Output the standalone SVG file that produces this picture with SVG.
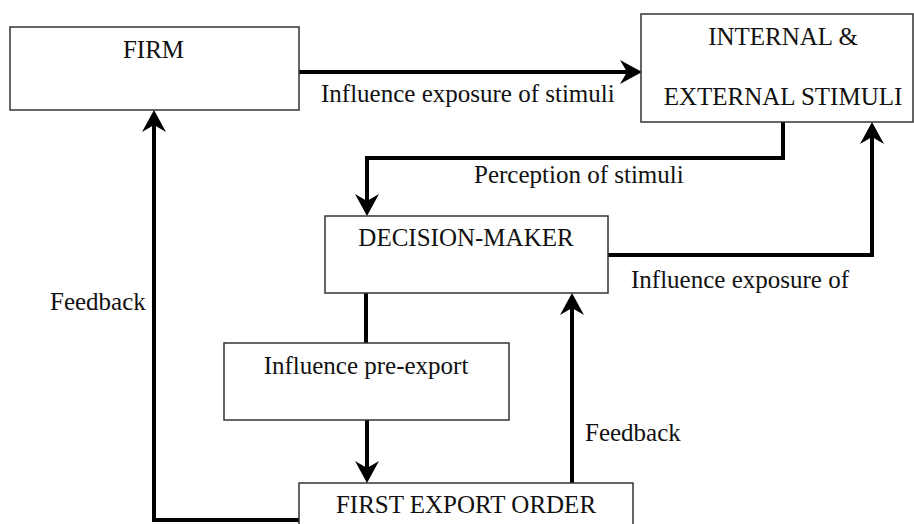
<svg xmlns="http://www.w3.org/2000/svg" width="914" height="524" viewBox="0 0 914 524">
  <defs>
    <marker id="arr" viewBox="0 0 22 24" refX="14" refY="12" markerWidth="22" markerHeight="24" markerUnits="userSpaceOnUse" orient="auto">
      <path d="M0,0 L22,12 L0,24 L7,12 Z" fill="#000"/>
    </marker>
  </defs>
  <style>
    .box { fill: #fff; stroke: #333; stroke-width: 1.5; }
    .t { font-family: "Liberation Serif", "Times New Roman", serif; font-size: 25px; fill: #111; }
    .c { text-anchor: middle; }
    .conn { fill: none; stroke: #000; stroke-width: 4; stroke-linejoin: miter; }
  </style>
  <rect width="914" height="524" fill="#fff"/>

  <g id="connectors">
    <path class="conn" d="M299,72 H634" marker-end="url(#arr)"/>
    <path class="conn" d="M783,122 V158 H367 V208" marker-end="url(#arr)"/>
    <path class="conn" d="M608,255 H872 V130" marker-end="url(#arr)"/>
    <path class="conn" d="M366,293 V343"/>
    <path class="conn" d="M367,420 V475" marker-end="url(#arr)"/>
    <path class="conn" d="M572,483 V301" marker-end="url(#arr)"/>
    <path class="conn" d="M299,520 H154 V118" marker-end="url(#arr)"/>
    <text class="t" x="321" y="102">Influence exposure of stimuli</text>
    <text class="t" x="474" y="183">Perception of stimuli</text>
    <text class="t" x="631" y="288">Influence exposure of</text>
    <text class="t" x="50" y="310">Feedback</text>
    <text class="t" x="585" y="441">Feedback</text>
  </g>

  <g id="firm">
    <rect class="box" x="10" y="27" width="289" height="83"/>
    <text class="t c" x="153.5" y="58">FIRM</text>
  </g>

  <g id="stimuli">
    <rect class="box" x="641" y="14" width="272" height="108"/>
    <text class="t c" x="783" y="45">INTERNAL &amp;</text>
    <text class="t c" x="783" y="105">EXTERNAL STIMULI</text>
  </g>

  <g id="decision-maker">
    <rect class="box" x="325" y="216" width="283" height="77"/>
    <text class="t c" x="466" y="246">DECISION-MAKER</text>
  </g>

  <g id="pre-export">
    <rect class="box" x="224" y="343" width="285" height="77"/>
    <text class="t c" x="366" y="374">Influence pre-export</text>
  </g>

  <g id="first-export-order">
    <rect class="box" x="299" y="483" width="334" height="50"/>
    <text class="t c" x="466" y="513">FIRST EXPORT ORDER</text>
  </g>
</svg>
